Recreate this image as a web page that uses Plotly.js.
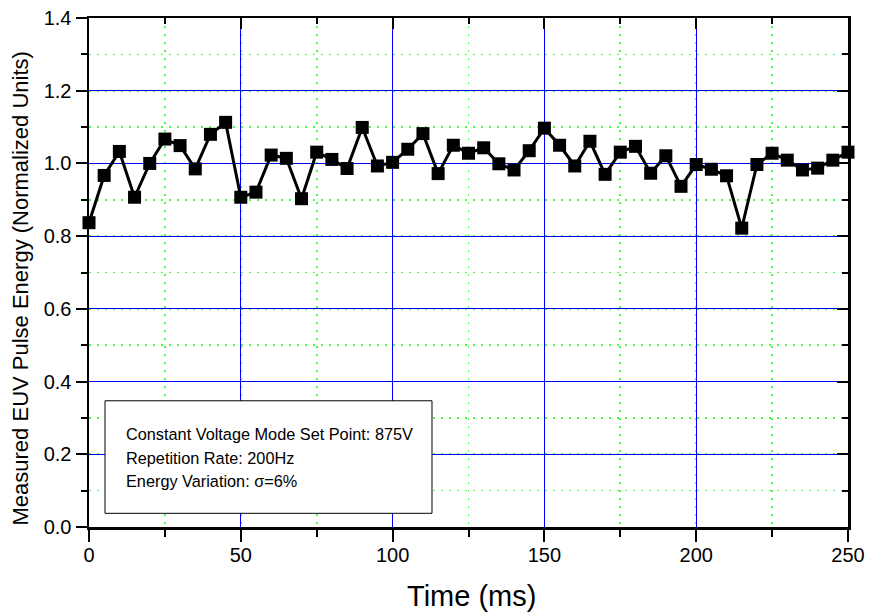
<!DOCTYPE html>
<html>
<head>
<meta charset="utf-8">
<script src="https://cdn.plot.ly/plotly-3.0.1.min.js"></script>
<style>html,body{margin:0;padding:0;background:#fff;}#chart{width:872px;height:616px;}</style>
</head>
<body>
<div id="chart"></div>
<script>
const timeMs = [0,5,10,15,20,25,30,35,40,45,50,55,60,65,70,75,80,85,90,95,100,105,110,115,120,125,130,135,140,145,150,155,160,165,170,175,180,185,190,195,200,205,210,215,220,225,230,235,240,245,250];
const energy = [0.837,0.967,1.033,0.907,1.000,1.067,1.049,0.985,1.080,1.113,0.907,0.921,1.023,1.014,0.903,1.031,1.011,0.986,1.099,0.993,1.003,1.039,1.082,0.972,1.050,1.028,1.043,0.999,0.982,1.035,1.097,1.050,0.993,1.061,0.970,1.031,1.047,0.973,1.021,0.937,0.997,0.984,0.966,0.822,0.997,1.028,1.009,0.982,0.987,1.009,1.031];
const xTickVals = [0, 50, 100, 150, 200, 250];
const yTickVals = [0, 0.2, 0.4, 0.6, 0.8, 1.0, 1.2, 1.4];
const xTitle = "Time (ms)";
const yTitle = "Measured EUV Pulse Energy (Normalized Units)";
const noteLines = ["Constant Voltage Mode Set Point: 875V", "Repetition Rate: 200Hz", "Energy Variation: σ=6%"];

const font = "Liberation Sans, Arial, sans-serif";
const trace = {
  x: timeMs, y: energy, type: 'scatter', mode: 'lines+markers',
  line: {color: '#000', width: 3},
  marker: {symbol: 'square', size: 13, color: '#000'},
  showlegend: false, cliponaxis: false
};
const ghost = {x: [0], y: [0], xaxis: 'x2', yaxis: 'y2', mode: 'markers', marker: {opacity: 0}, showlegend: false, hoverinfo: 'skip'};

const noteY = [0.1827, 0.1361, 0.0910];
const annotations = noteLines.map((t, i) => ({
  text: t, xref: 'paper', yref: 'paper', x: 0.0461, y: noteY[i],
  xanchor: 'left', yanchor: 'middle', showarrow: false,
  font: {family: font, size: 16.3, color: '#000'}
}));
annotations.push({
  text: yTitle, xref: 'paper', yref: 'paper', x: -0.0909, y: 0.4686, textangle: -90,
  xanchor: 'center', yanchor: 'middle', showarrow: false,
  font: {family: font, size: 22, color: '#000'}
});
annotations.push({
  text: xTitle, xref: 'paper', yref: 'paper', x: 0.504, y: -0.1356,
  xanchor: 'center', yanchor: 'middle', showarrow: false,
  font: {family: font, size: 29, color: '#000'}
});

const minorGrid = {showgrid: true, gridcolor: '#44ff44', griddash: '2px,6px', gridwidth: 1.6};
const layout = {
  width: 872, height: 616,
  margin: {l: 89, r: 24, t: 18, b: 89},
  paper_bgcolor: '#fff', plot_bgcolor: '#fff',
  xaxis: {
    range: [0, 250], tickvals: xTickVals,
    showline: true, linecolor: '#000', linewidth: 2.5,
    ticks: 'outside', ticklen: 12, tickwidth: 2, tickcolor: '#000',
    showgrid: true, gridcolor: '#0000ff', gridwidth: 1,
    minor: Object.assign({dtick: 25, tick0: 0, ticks: 'outside', ticklen: 7, tickwidth: 2, tickcolor: '#000'}, minorGrid),
    zeroline: false,
    tickfont: {family: font, size: 20, color: '#000'},
    ticklabelstandoff: -4
  },
  yaxis: {
    range: [0, 1.4], tickvals: yTickVals, tickformat: '.1f',
    showline: true, linecolor: '#000', linewidth: 2.5,
    ticks: 'outside', ticklen: 11, tickwidth: 2, tickcolor: '#000',
    showgrid: true, gridcolor: '#0000ff', gridwidth: 1,
    minor: Object.assign({dtick: 0.1, tick0: 0, ticks: 'outside', ticklen: 6, tickwidth: 2, tickcolor: '#000'}, minorGrid),
    zeroline: false,
    tickfont: {family: font, size: 20, color: '#000'}
  },
  xaxis2: {
    overlaying: 'x', side: 'top', range: [0, 250], tickvals: xTickVals,
    showline: true, linecolor: '#000', linewidth: 2.5,
    ticks: 'inside', ticklen: 11, tickwidth: 2, tickcolor: '#000', showticklabels: false,
    showgrid: false, zeroline: false,
    minor: {dtick: 25, tick0: 0, ticks: 'inside', ticklen: 6, tickwidth: 2, tickcolor: '#000', showgrid: false}
  },
  yaxis2: {
    overlaying: 'y', side: 'right', range: [0, 1.4], tickvals: yTickVals,
    showline: true, linecolor: '#000', linewidth: 2.5,
    ticks: 'inside', ticklen: 11, tickwidth: 2, tickcolor: '#000', showticklabels: false,
    showgrid: false, zeroline: false,
    minor: {dtick: 0.1, tick0: 0, ticks: 'inside', ticklen: 6, tickwidth: 2, tickcolor: '#000', showgrid: false}
  },
  shapes: [{
    type: 'rect', xref: 'paper', yref: 'paper', x0: 0.0211, x1: 0.4519, y0: 0.0269, y1: 0.248,
    line: {color: '#000', width: 1}, fillcolor: '#fff', layer: 'above'
  }],
  annotations: annotations
};

Plotly.newPlot('chart', [trace, ghost], layout, {displayModeBar: false, staticPlot: true});
</script>
</body>
</html>
